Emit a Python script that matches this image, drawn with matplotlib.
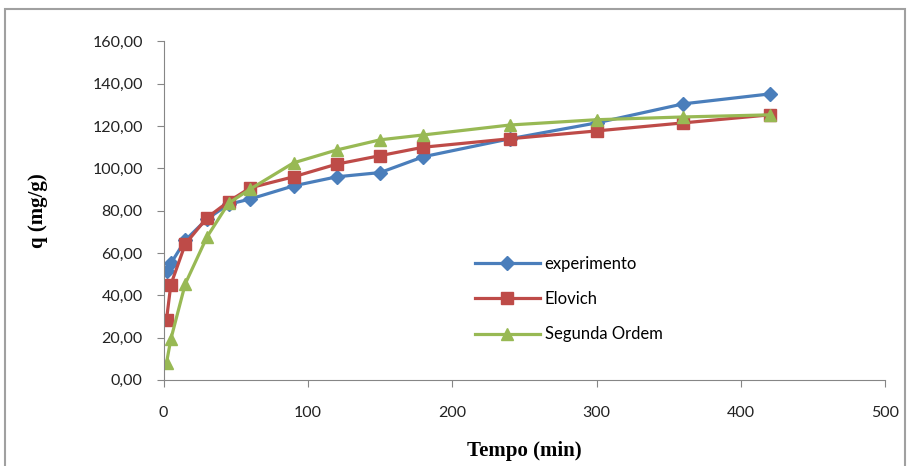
import matplotlib
matplotlib.use("Agg")
import matplotlib.pyplot as plt
from matplotlib.ticker import FuncFormatter
from matplotlib.patches import Rectangle

# tempo (min)
tempo = [2, 5, 15, 30, 45, 60, 90, 120, 150, 180, 240, 300, 360, 420]

# q (mg/g)
experimento = [51.5, 55, 66, 76, 83, 85.5, 91.7, 96, 98, 105.5, 114, 121.5, 130.5, 135.2]
elovich = [28.4, 45, 64.2, 76.6, 84.3, 90.8, 96, 102, 106, 110, 114, 117.7, 121.5, 125.3]
segunda_ordem = [8, 19.2, 45.4, 67.5, 83.5, 90.2, 102.6, 108.7, 113.5, 115.8, 120.5, 123, 124.3, 125.3]

fig = plt.figure(figsize=(9.09, 4.66), dpi=100)
ax = fig.add_axes([0.180, 0.185, 0.794, 0.726])

ax.plot(tempo, experimento, color='#4a7ebb', marker='D', markersize=7, linewidth=2.3, label='experimento')
ax.plot(tempo, elovich, color='#be4b48', marker='s', markersize=9, linewidth=2.3, label='Elovich')
ax.plot(tempo, segunda_ordem, color='#98b954', marker='^', markersize=9, linewidth=2.3, label='Segunda Ordem')

ax.set_xlim(0, 500)
ax.set_ylim(0, 160)
ax.set_xticks(range(0, 501, 100))
ax.set_yticks(range(0, 161, 20))
ax.yaxis.set_major_formatter(FuncFormatter(lambda v, p: '{:.2f}'.format(v).replace('.', ',')))

for s in ['top', 'right']:
    ax.spines[s].set_visible(False)
for s in ['left', 'bottom']:
    ax.spines[s].set_color('#868686')
ax.tick_params(direction='out', length=5, color='#868686', labelsize=11.5, labelcolor='#222222')
ax.tick_params(axis='x', pad=14)
ax.tick_params(axis='y', pad=10)
for lab in ax.get_xticklabels() + ax.get_yticklabels():
    lab.set_family('Lato')

ax.set_xlabel('Tempo (min)', family='Liberation Serif', fontweight='bold', fontsize=15, labelpad=15)
ax.set_ylabel('q (mg/g)', family='Liberation Serif', fontweight='bold', fontsize=15, labelpad=32)

leg = ax.legend(loc='upper left', bbox_to_anchor=(0.41, 0.41), frameon=False,
                handlelength=3.9, handletextpad=0.3, labelspacing=1.15,
                prop={'family': 'Lato', 'size': 12})

# moldura do grafico
fig.patches.append(Rectangle((0.006, -0.05), 0.99, 1.03, transform=fig.transFigure,
                             fill=False, edgecolor='#a0a0a0', linewidth=1.5))

fig.savefig('out.png', dpi=100)
